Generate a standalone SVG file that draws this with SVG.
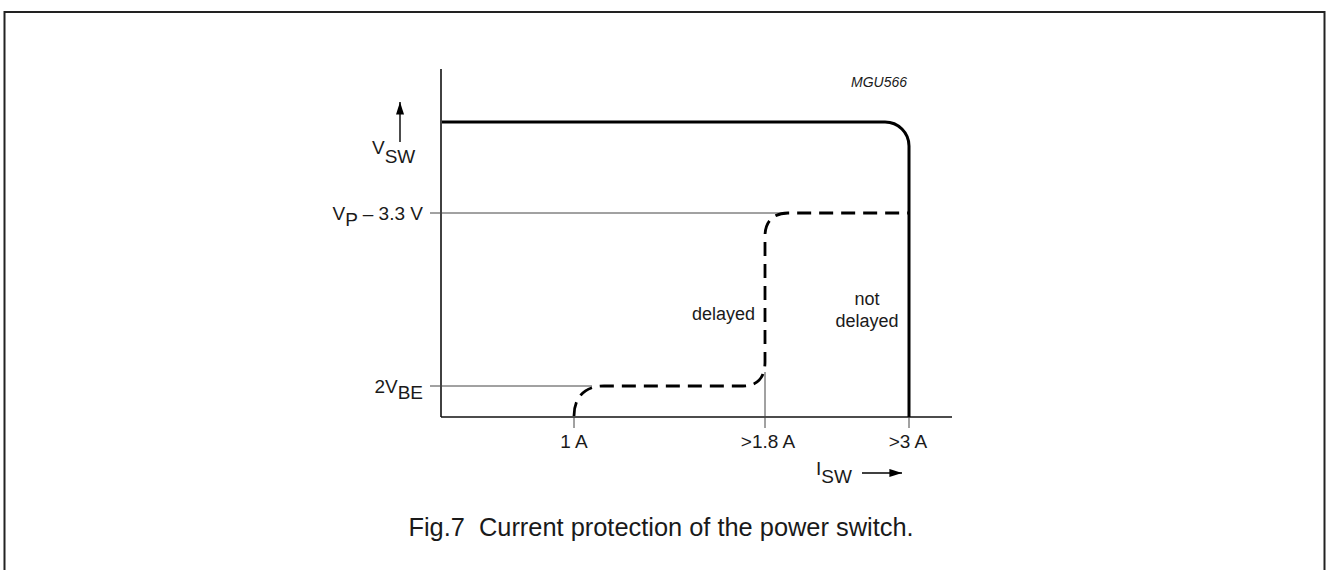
<svg xmlns="http://www.w3.org/2000/svg" width="1326" height="570" viewBox="0 0 1326 570">
<defs>
<style>
text{font-family:"Liberation Sans",Arial,sans-serif;fill:#1a1a1a;font-size:19px}
.lbl{font-size:19px}
.note{font-size:18px}
.code{font-size:14px;font-style:italic}
.cap{font-size:25.4px;white-space:pre}
.thin{stroke:#444;stroke-width:1;fill:none}
.axis{stroke:#111;stroke-width:1.6;fill:none}
.thick{stroke:#000;stroke-width:3;fill:none}
.dash{stroke:#000;stroke-width:2.8;fill:none;stroke-dasharray:14 8}
</style>
<marker id="ahv" viewBox="0 0 14 10" refX="14" refY="5" markerWidth="14" markerHeight="9" markerUnits="userSpaceOnUse" orient="auto">
<path d="M0,0.5 L14,5 L0,9.5 z" fill="#000"/>
</marker>
</defs>
<rect x="4.5" y="12" width="1320" height="570" fill="#fff" stroke="#222" stroke-width="2"/>
<g id="axes">
<line class="axis" x1="441" y1="69" x2="441" y2="417"/>
<line class="axis" x1="441" y1="417" x2="952" y2="417"/>
</g>
<g id="connectors">
<line class="thin" x1="430" y1="213" x2="785" y2="213"/>
<line class="thin" x1="430" y1="386" x2="592" y2="386"/>
<line class="thin" x1="574" y1="417" x2="574" y2="428"/>
<line class="thin" x1="765" y1="372" x2="765" y2="428"/>
<line class="thin" x1="909" y1="417" x2="909" y2="428"/>
<path class="thick" d="M442,122 H885 A24,24 0 0 1 909,146 V417"/>
<path class="dash" d="M574,416 C574,398 584,386 604,386 H743 C757,386 765,378 765,362 V236 C765,222 773,213 788,213 H909"/>
<line stroke="#000" stroke-width="1.4" x1="400" y1="142" x2="400" y2="102" marker-end="url(#ahv)"/>
<line stroke="#000" stroke-width="1.4" x1="862" y1="473" x2="902" y2="473" marker-end="url(#ahv)"/>
</g>
<g id="labels">
<text class="code" x="879" y="87" text-anchor="middle">MGU566</text>
<text class="lbl" x="372" y="154">V<tspan dy="9">SW</tspan></text>
<text class="lbl" x="423" y="220" text-anchor="end">V<tspan dy="6">P</tspan><tspan dy="-6"> – 3.3 V</tspan></text>
<text class="lbl" x="423" y="393" text-anchor="end">2V<tspan dy="6">BE</tspan></text>
<text class="lbl" x="574" y="448" text-anchor="middle">1 A</text>
<text class="lbl" x="768" y="448" text-anchor="middle">&gt;1.8 A</text>
<text class="lbl" x="908" y="448" text-anchor="middle">&gt;3 A</text>
<text class="lbl" x="816" y="475">I<tspan dy="8">SW</tspan></text>
<text class="note" x="755" y="320" text-anchor="end">delayed</text>
<text class="note" x="867" y="305" text-anchor="middle">not</text>
<text class="note" x="867" y="327" text-anchor="middle">delayed</text>
<text class="cap" x="661" y="536" text-anchor="middle">Fig.7  Current protection of the power switch.</text>
</g>
</svg>
